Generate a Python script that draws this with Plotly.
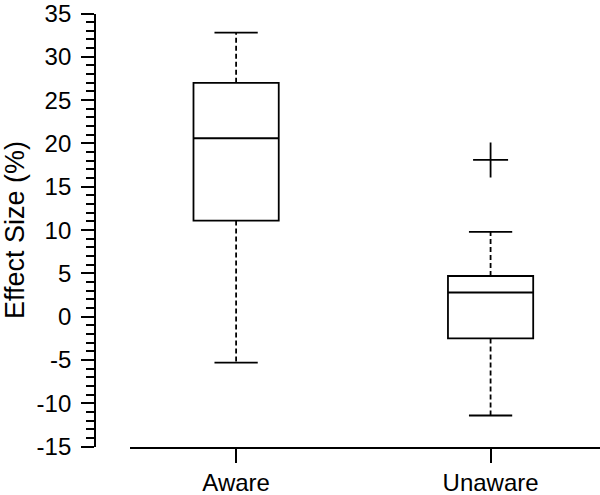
import plotly.graph_objects as go

# box plot summary values
groups = ["Aware", "Unaware"]
positions = [0, 1]
lower_whisker = [-5.3, -11.4]
q1 = [11.1, -2.5]
median = [20.6, 2.8]
q3 = [27.0, 4.7]
upper_whisker = [32.8, 9.8]
outlier_pos = [1]
outlier_val = [18.1]
y_ticks = [-15, -10, -5, 0, 5, 10, 15, 20, 25, 30, 35]
y_tick_labels = ["-15", "-10", "-5", "0", "5", "10", "15", "20", "25", "30", "35"]

FONT = "Liberation Sans, Arial, Helvetica, sans-serif"
BOX_W = 0.335
CAP_HALF = 0.085
LW = 1.8
W, H = 600, 495

fig = go.Figure()

# boxes (no whiskers here, drawn dashed below)
fig.add_trace(go.Box(
    x=positions,
    q1=q1, median=median, q3=q3,
    lowerfence=q1, upperfence=q3,
    width=BOX_W,
    whiskerwidth=0,
    boxpoints=False,
    fillcolor="white",
    line=dict(color="black", width=LW),
    hoverinfo="skip",
))

# dashed whiskers
wx, wy = [], []
for p, lo, a, b, hi in zip(positions, lower_whisker, q1, q3, upper_whisker):
    wx += [p, p, None, p, p, None]
    wy += [b, hi, None, a, lo, None]
fig.add_trace(go.Scatter(
    x=wx, y=wy, mode="lines",
    line=dict(color="black", width=LW, dash="5px,3px"),
    hoverinfo="skip",
))

# whisker caps
cx, cy = [], []
for p, lo, hi in zip(positions, lower_whisker, upper_whisker):
    cx += [p - CAP_HALF, p + CAP_HALF, None, p - CAP_HALF, p + CAP_HALF, None]
    cy += [hi, hi, None, lo, lo, None]
fig.add_trace(go.Scatter(
    x=cx, y=cy, mode="lines",
    line=dict(color="black", width=LW),
    hoverinfo="skip",
))

# outlier
fig.add_trace(go.Scatter(
    x=outlier_pos, y=outlier_val, mode="markers",
    marker=dict(symbol="cross-thin", size=25,
                line=dict(color="black", width=LW)),
    hoverinfo="skip",
))

fig.update_layout(
    width=W,
    height=H,
    margin=dict(l=0, r=0, t=0, b=0, autoexpand=False),
    plot_bgcolor="white",
    paper_bgcolor="white",
    showlegend=False,
    font=dict(family=FONT, color="black", size=24),
    xaxis=dict(
        domain=[130 / W, 1],
        range=[-0.417, 1.43],
        tickvals=positions,
        ticktext=groups,
        ticks="outside",
        ticklen=14,
        tickwidth=LW,
        tickcolor="black",
        showline=True,
        linecolor="black",
        linewidth=LW,
        showgrid=False,
        zeroline=False,
        automargin=False,
        ticklabeloverflow="allow",
        tickfont=dict(size=24),
    ),
    yaxis=dict(
        domain=[1 - 446.7 / H, 1 - 13.5 / H],
        range=[-15, 35],
        tickvals=y_ticks,
        ticktext=y_tick_labels,
        anchor="free",
        position=95 / W,
        ticks="outside",
        ticklen=13,
        tickwidth=LW,
        tickcolor="black",
        ticklabelstandoff=5,
        ticklabeloverflow="allow",
        minor=dict(ticks="outside", ticklen=8, dtick=1,
                   tickwidth=LW, tickcolor="black", showgrid=False),
        showline=True,
        linecolor="black",
        linewidth=LW,
        showgrid=False,
        zeroline=False,
        automargin=False,
        tickfont=dict(size=24),
        title=dict(text="Effect Size (%)", font=dict(size=27), standoff=24),
    ),
)

# drop the default body margin so the figure fills the window
fig.write_html(
    "out.html",
    config={"displayModeBar": False},
    post_script="document.body.style.margin = '0';",
)
